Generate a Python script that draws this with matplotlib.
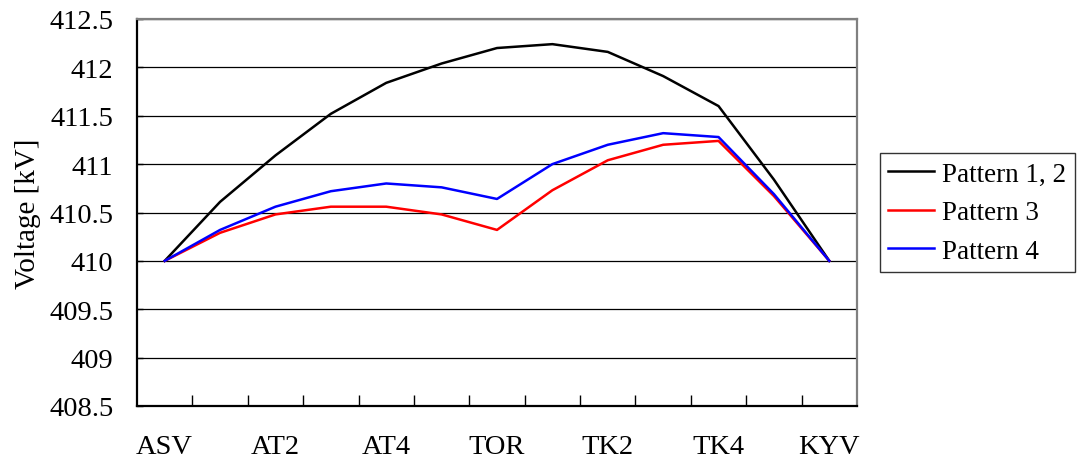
import matplotlib
matplotlib.use("Agg")
import matplotlib.pyplot as plt
import numpy as np

categories = ["ASV", "AT1", "AT2", "AT3", "AT4", "AT5", "TOR",
              "TK1", "TK2", "TK3", "TK4", "TK5", "KYV"]
shown_labels = ["ASV", "", "AT2", "", "AT4", "", "TOR",
                "", "TK2", "", "TK4", "", "KYV"]
pattern12 = [410.00, 410.61, 411.09, 411.52, 411.84, 412.04, 412.20,
             412.24, 412.16, 411.91, 411.60, 410.84, 410.00]
pattern3 = [410.00, 410.29, 410.48, 410.56, 410.56, 410.48, 410.32,
            410.73, 411.04, 411.20, 411.24, 410.67, 410.00]
pattern4 = [410.00, 410.32, 410.56, 410.72, 410.80, 410.76, 410.64,
            411.00, 411.20, 411.32, 411.28, 410.69, 410.00]
y_ticks = [408.5, 409, 409.5, 410, 410.5, 411, 411.5, 412, 412.5]

plt.rcParams['font.family'] = ['Liberation Serif', 'DejaVu Serif']

fig = plt.figure(figsize=(10.78, 4.64), dpi=100)
ax = fig.add_axes([137/1078, 1 - 407/464, (857-137)/1078, (407-20)/464])

x = np.arange(len(categories))
ax.plot(x, pattern12, color='black', lw=1.8, label='Pattern 1, 2')
ax.plot(x, pattern3, color='#ff0000', lw=1.8, label='Pattern 3')
ax.plot(x, pattern4, color='#0000ff', lw=1.8, label='Pattern 4')

ax.set_xlim(-0.5, len(categories) - 0.5)
ax.set_ylim(408.5, 412.5)
ax.set_yticks(y_ticks)
ax.set_yticklabels([f"{v:g}" for v in y_ticks])
ax.yaxis.grid(True, color='black', lw=0.9)
ax.set_axisbelow(True)

# category labels at centers, tick marks between categories
ax.set_xticks(x)
ax.set_xticklabels(shown_labels)
ax.tick_params(axis='x', which='major', length=0, pad=20, labelsize=20.5)
ax.set_xticks(np.arange(0.5, len(categories) - 1, 1.0), minor=True)
ax.tick_params(axis='x', which='minor', direction='in', length=8, width=1, color='black')
ax.tick_params(axis='y', direction='in', length=4, width=1, pad=17, labelsize=20.5)

for s in ['left', 'bottom']:
    ax.spines[s].set_color('black')
    ax.spines[s].set_linewidth(1.6)
for s in ['top', 'right']:
    ax.spines[s].set_color('#808080')
    ax.spines[s].set_linewidth(1.6)

ax.set_ylabel('Voltage [kV]', fontsize=21, labelpad=6)

leg = ax.legend(loc='center left', bbox_to_anchor=(1.032, 0.5), fontsize=19.5,
                frameon=True, fancybox=False, shadow=False, handlelength=1.7,
                handletextpad=0.3, borderpad=0.3, labelspacing=0.5, borderaxespad=0)
leg.get_frame().set_edgecolor('black')
leg.get_frame().set_linewidth(1.0)

fig.savefig('out.png', dpi=100)
